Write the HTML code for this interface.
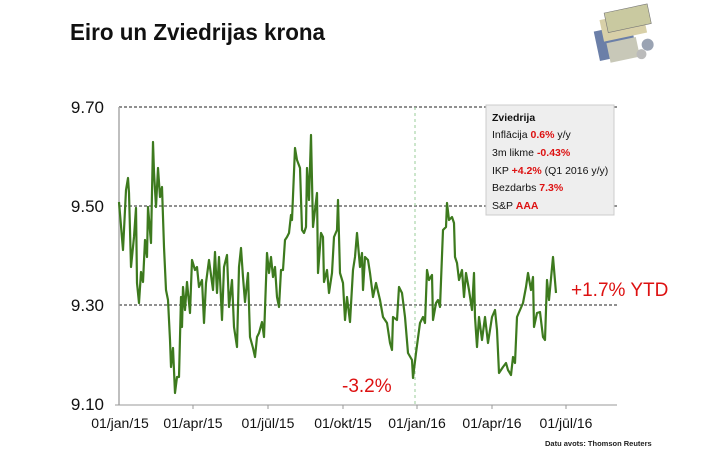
<!DOCTYPE html>
<html><head><meta charset="utf-8"><style>
body{margin:0;background:#fff;}
svg{display:block;font-family:"Liberation Sans",sans-serif;}
</style></head><body>
<svg width="704" height="452" viewBox="0 0 704 452">
<text x="70" y="40" font-size="23" font-weight="bold" fill="#111" textLength="255" lengthAdjust="spacingAndGlyphs">Eiro un Zviedrijas krona</text>
<g transform="translate(590,14) rotate(-12)">
<rect x="0" y="18" width="38" height="30" fill="#6b7fa8"/>
<rect x="8" y="8" width="44" height="22" fill="#d8d0a8"/>
<rect x="14" y="2" width="44" height="20" fill="#c9c9a0" stroke="#777" stroke-width="0.6"/>
<rect x="10" y="32" width="30" height="20" fill="#c8c8b8"/>
<circle cx="50" cy="42" r="6" fill="#9aa3b3"/><circle cx="42" cy="50" r="5" fill="#bbb"/>
</g>
<g stroke="#222" stroke-dasharray="3,2" stroke-width="1">
<line x1="119" y1="107" x2="617" y2="107"/>
<line x1="119" y1="206" x2="617" y2="206"/>
<line x1="119" y1="305" x2="617" y2="305"/>
</g>
<line x1="415" y1="107" x2="415" y2="405" stroke="#9c9" stroke-dasharray="3,3" stroke-width="1"/>
<line x1="119" y1="107" x2="119" y2="405" stroke="#aaa" stroke-width="1.5"/>
<line x1="115" y1="405" x2="617" y2="405" stroke="#999" stroke-width="1"/>
<g stroke="#999"><line x1="193" y1="405" x2="193" y2="409"/><line x1="268" y1="405" x2="268" y2="409"/><line x1="343" y1="405" x2="343" y2="409"/><line x1="417" y1="405" x2="417" y2="409"/><line x1="492" y1="405" x2="492" y2="409"/><line x1="566" y1="405" x2="566" y2="409"/></g>
<g font-size="17" fill="#111" text-anchor="end"><text x="104" y="113">9.70</text><text x="104" y="212">9.50</text><text x="104" y="311">9.30</text><text x="104" y="410">9.10</text></g>
<g font-size="14" fill="#111" text-anchor="middle"><text x="120" y="428">01/jan/15</text><text x="193" y="428">01/apr/15</text><text x="268" y="428">01/jūl/15</text><text x="343" y="428">01/okt/15</text><text x="417" y="428">01/jan/16</text><text x="492" y="428">01/apr/16</text><text x="566" y="428">01/jūl/16</text></g>
<rect x="486" y="105" width="128" height="110" fill="#eeeeee" stroke="#ccc"/>
<g font-size="10.5" fill="#111">
<text x="492" y="121" font-weight="bold">Zviedrija</text>
<text x="492" y="138">Inflācija <tspan fill="#d11" font-weight="bold">0.6%</tspan> y/y</text>
<text x="492" y="156">3m likme <tspan fill="#d11" font-weight="bold">-0.43%</tspan></text>
<text x="492" y="174">IKP <tspan fill="#d11" font-weight="bold">+4.2%</tspan> (Q1 2016 y/y)</text>
<text x="492" y="191">Bezdarbs <tspan fill="#d11" font-weight="bold">7.3%</tspan></text>
<text x="492" y="209">S&amp;P <tspan fill="#d11" font-weight="bold">AAA</tspan></text>
</g>
<polyline fill="none" stroke="#3d7a1e" stroke-width="2.2" stroke-linejoin="round" points="119,202 123,250 126,190 128,178 129,193 131,267 134,237 136,208 137,283 139,303 141,272 143,282 145,240 147,257 148,207 151,243 153,142 154,172 156,207 158,168 160,197 162,187 164,247 166,290 168,300 170,340 171,367 173,348 175,393 177,377 179,377 181,297 182,327 183,287 185,310 187,282 190,313 192,260 195,270 197,267 199,287 202,280 204,323 206,283 209,260 213,290 215,252 217,293 219,257 222,320 224,267 227,255 229,307 232,280 234,327 237,347 239,267 241,248 243,277 245,302 248,273 250,337 253,348 255,357 257,337 259,333 262,322 264,337 267,253 269,273 271,257 273,277 275,267 277,297 279,307 281,270 283,270 285,240 287,237 289,233 291,215 292,220 295,148 297,160 300,168 302,230 304,233 306,227 307,168 309,200 311,135 313,227 315,210 317,193 318,273 321,233 323,237 324,282 327,270 329,293 332,273 334,237 337,230 338,200 340,273 343,283 345,320 347,297 350,322 353,270 355,257 357,233 360,267 362,253 363,290 365,257 368,260 370,273 373,297 376,283 380,300 383,317 387,323 390,343 392,350 393,317 397,320 399,287 402,293 405,317 408,353 412,360 413,378 416,353 420,323 423,317 425,323 427,270 429,280 432,275 433,320 436,303 438,300 440,307 443,230 446,227 447,203 449,220 452,217 454,223 455,257 457,263 459,280 462,270 464,297 466,273 469,290 472,310 474,273 475,317 477,347 479,317 482,340 485,317 488,343 492,317 495,310 497,330 499,373 503,367 506,363 508,370 511,375 513,357 515,363 517,317 520,310 523,303 526,287 528,273 531,290 533,277 534,327 537,313 540,312 543,337 545,340 547,280 549,300 553,257 556,293"/>
<text x="342" y="392" font-size="19" fill="#d11">-3.2%</text>
<text x="571" y="296" font-size="19" fill="#d11">+1.7% YTD</text>
<text x="545" y="446" font-size="7.5" fill="#222" font-weight="bold">Datu avots: Thomson Reuters</text>
</svg>
</body></html>
